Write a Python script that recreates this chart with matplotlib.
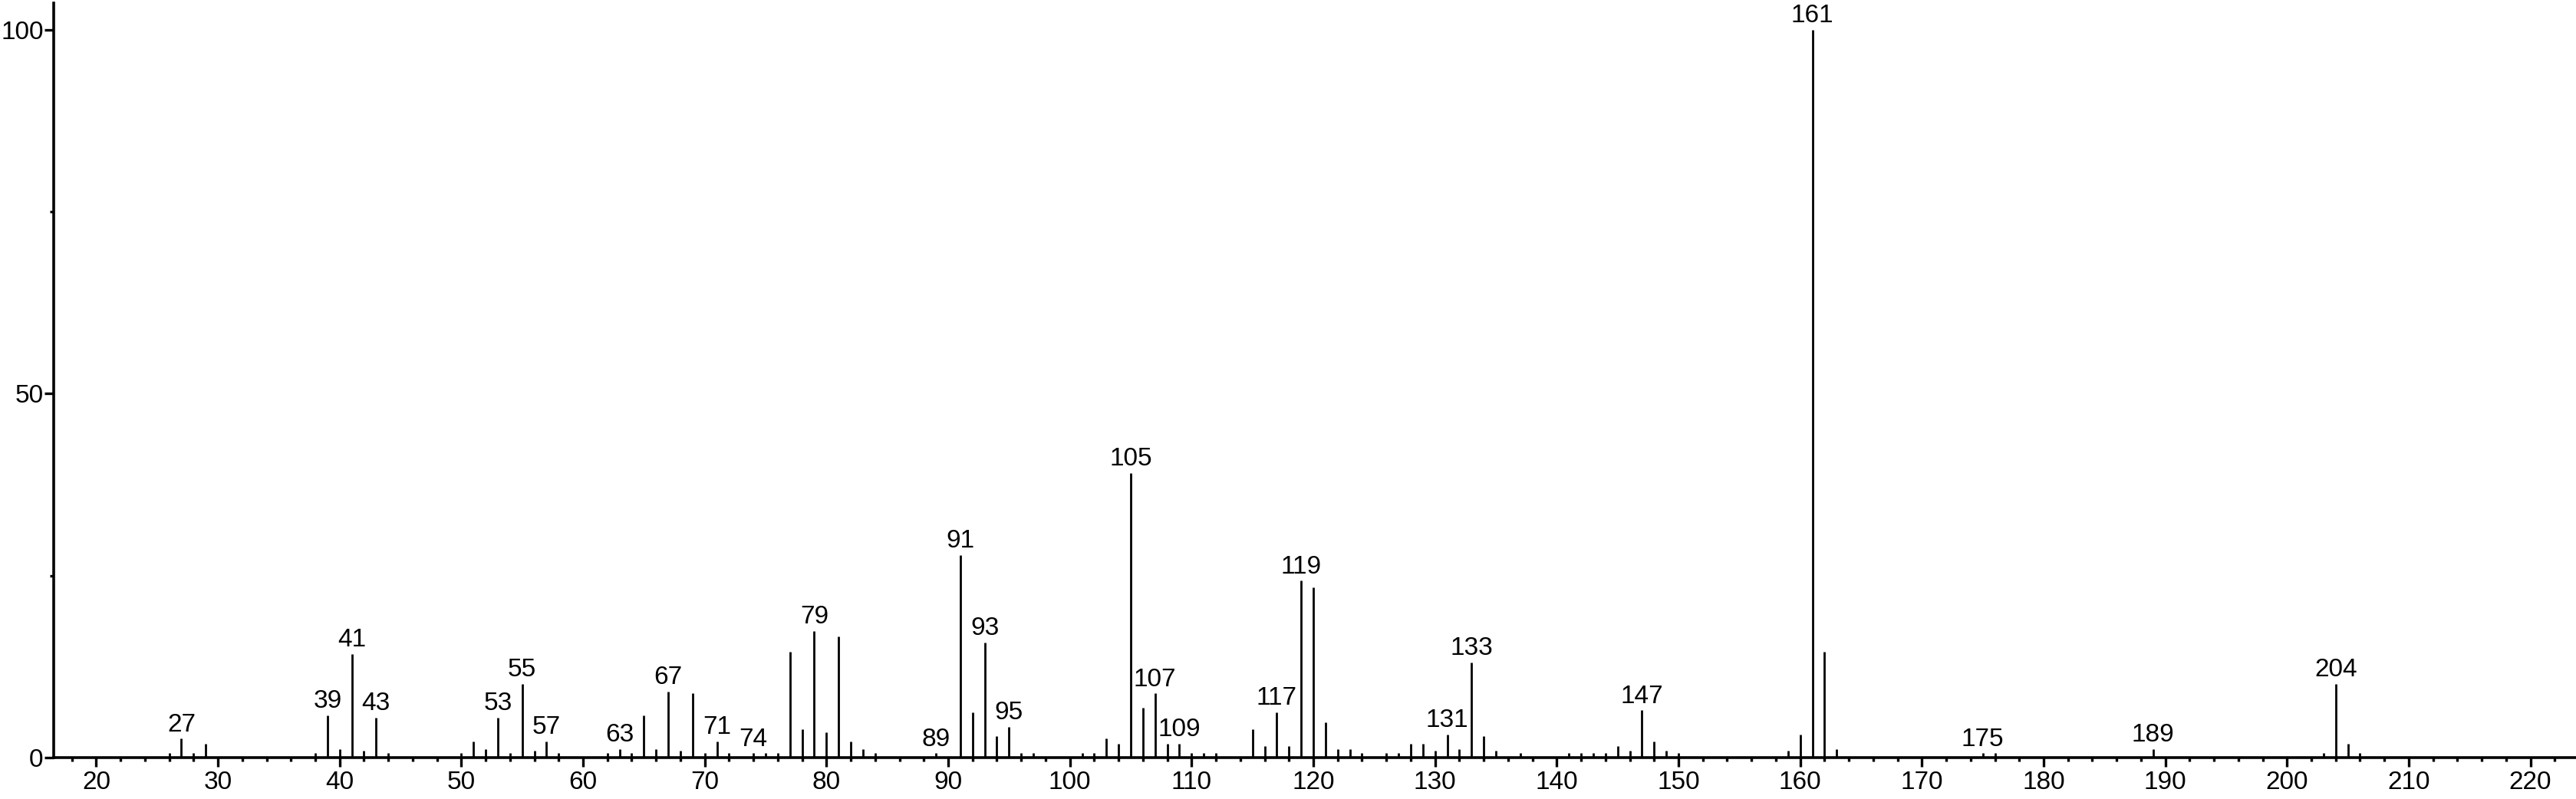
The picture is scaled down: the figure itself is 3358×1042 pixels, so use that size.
import numpy as np
import matplotlib.pyplot as plt
from matplotlib.ticker import MultipleLocator

plt.rcParams['font.family'] = ['Liberation Sans', 'DejaVu Sans']

# m/z values and relative intensities
mz = [26, 27, 28, 29, 38, 39, 40, 41, 42, 43, 44,
      50, 51, 52, 53, 54, 55, 56, 57, 58,
      62, 63, 64, 65, 66, 67, 68, 69, 70, 71, 72, 74, 75, 76, 77, 78, 79, 80, 81, 82, 83, 84,
      89, 91, 92, 93, 94, 95, 96, 97,
      101, 102, 103, 104, 105, 106, 107, 108, 109, 110, 111, 112,
      115, 116, 117, 118, 119, 120, 121, 122, 123, 124, 126, 127, 128, 129, 130, 131, 132, 133, 134, 135, 137,
      141, 142, 143, 144, 145, 146, 147, 148, 149, 150,
      159, 160, 161, 162, 163,
      175, 176, 189, 203, 204, 205, 206]
intensity = [0.6, 2.6, 0.6, 1.9, 0.6, 5.8, 1.2, 14.2, 0.9, 5.5, 0.6,
             0.6, 2.2, 1.2, 5.5, 0.6, 10.1, 0.9, 2.2, 0.6,
             0.6, 1.2, 0.6, 5.8, 1.2, 9.1, 0.9, 8.8, 0.6, 2.2, 0.6, 0.6, 0.6, 0.6, 14.5, 3.9, 17.4, 3.5, 16.6, 2.2, 1.2, 0.6,
             0.6, 27.8, 6.2, 15.8, 2.9, 4.2, 0.6, 0.6,
             0.6, 0.6, 2.6, 1.9, 39.1, 6.8, 8.8, 1.9, 1.9, 0.6, 0.6, 0.6,
             3.9, 1.6, 6.2, 1.6, 24.3, 23.4, 4.8, 1.2, 1.2, 0.6, 0.6, 0.6, 1.9, 1.9, 0.9, 3.2, 1.2, 13.1, 2.9, 0.9, 0.6,
             0.6, 0.6, 0.6, 0.6, 1.6, 0.9, 6.5, 2.2, 0.9, 0.6,
             0.9, 3.2, 100.0, 14.5, 1.2,
             0.6, 0.6, 1.2, 0.6, 10.1, 1.9, 0.6]
labeled = [27, 39, 41, 43, 53, 55, 57, 63, 67, 71, 74, 79, 89, 91, 93, 95,
           105, 107, 109, 117, 119, 131, 133, 147, 161, 175, 189, 204]

fig = plt.figure(figsize=(33.58, 10.42), dpi=100)
ax = fig.add_axes([0.0208, 0.0518, 0.979, 0.944])

ax.vlines(mz, 0, intensity, color='black', linewidth=2.0)

lookup = dict(zip(mz, intensity))
for m in labeled:
    ax.annotate(str(m), (m, lookup[m]), xytext=(0, 2), textcoords='offset points',
                ha='center', va='bottom', fontsize=24,
                bbox=dict(facecolor='white', edgecolor='none', pad=0.5), clip_on=False)

ax.set_xlim(16.5, 223.7)
ax.set_ylim(0, 103.6)
ax.set_xticks(np.arange(20, 221, 10))
ax.xaxis.set_minor_locator(MultipleLocator(2))
ax.set_yticks([0, 50, 100])
ax.yaxis.set_minor_locator(MultipleLocator(25))

ax.spines['top'].set_visible(False)
ax.spines['right'].set_visible(False)
for s in ('left', 'bottom'):
    ax.spines[s].set_linewidth(2.6)

ax.tick_params(axis='both', which='major', labelsize=24, width=2.4, length=8.5, pad=4)
ax.tick_params(axis='both', which='minor', width=2.4, length=3.5)
ax.tick_params(axis='y', pad=1)

fig.savefig('out.png', dpi=100)
